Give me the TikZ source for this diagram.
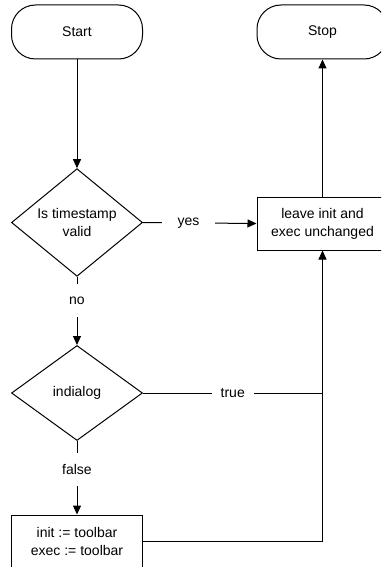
\documentclass[tikz,border=0pt]{standalone}
\usepackage{fontspec}
\setmainfont{Liberation Sans}
\usetikzlibrary{shapes.geometric, arrows.meta}

\tikzset{
	terminal/.style = {draw, rectangle, rounded corners=24pt, minimum width=131pt, minimum height=54pt, align=center},
	decision/.style = {draw, diamond, minimum width=131pt, minimum height=95pt, inner sep=0pt, align=center},
	process/.style = {draw, rectangle, minimum width=131pt, minimum height=53pt, align=center},
	lbl/.style = {fill=white, inner sep=0pt},
	flow/.style = {-{Triangle[length=9pt, width=8pt]}},
}

\begin{document}
\begin{tikzpicture}[x=1pt, y=-1pt, line width=1pt, font=\fontsize{14}{18}\selectfont]
			\def\lx{77};
			\def\rx{322.5};

			\clip (0,0) rectangle (381,567);
			\fill [white] (0,0) rectangle (381,567);

			\begin{scope}
				\node[terminal] (start) at (\lx,32) {Start};
				\node[terminal] (stop) at (\rx,32) {Stop};
				\node[decision] (timestamp) at (\lx,222.5) {Is timestamp\\valid};
				\node[process] (leave) at (\rx,223.5) {leave init and\\exec unchanged};
				\node[decision] (indialog) at (\lx,393) {indialog};
				\node[process] (toolbar) at (\lx,541.5) {init := toolbar\\exec := toolbar};
			\end{scope}

			\begin{scope}
				\draw[flow] (start) -- (timestamp);
				\draw[flow] (timestamp.east) -- node[lbl, minimum width=53pt, minimum height=14pt, pos=0.4] {yes} (leave.west);
				\draw[flow] (leave) -- (stop);
				\draw[flow] (timestamp.south) -- node[lbl, minimum height=33pt, pos=0.35] {no} (indialog.north);
				\draw[flow] (indialog.south) -- node[lbl, minimum height=33pt, pos=0.39] {false} (toolbar.north);
				\draw (indialog.east) -- node[lbl, minimum width=42pt, minimum height=14pt] {true} (indialog.east -| leave.south);
				\draw[flow] (toolbar.east) -| (leave.south);
			\end{scope}
		\end{tikzpicture}
\end{document}
